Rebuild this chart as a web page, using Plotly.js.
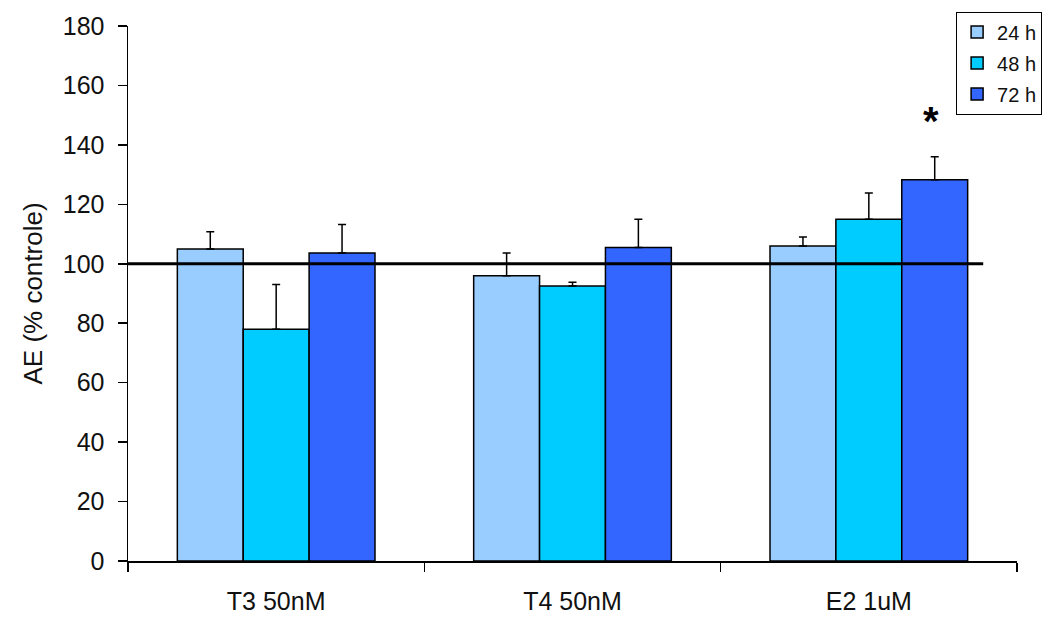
<!DOCTYPE html>
<html>
<head>
<meta charset="utf-8">
<script src="https://cdn.plot.ly/plotly-3.0.1.min.js"></script>
<style>html,body{margin:0;padding:0;background:#fff;}#chart{width:1054px;height:619px;}</style>
</head>
<body>
<div id="chart"></div>
<script>
const categories = ["T3 50nM", "T4 50nM", "E2 1uM"];
const seriesNames = ["24 h", "48 h", "72 h"];
const values24 = [105, 96, 106];
const values48 = [78, 92.5, 115];
const values72 = [103.6, 105.5, 128.3];
const err24 = [5.8, 7.6, 3];
const err48 = [15, 1.3, 8.8];
const err72 = [9.6, 9.5, 7.7];
const colors = ["#99CCFF", "#00CCFF", "#3366FF"];
const yTicks = [0, 20, 40, 60, 80, 100, 120, 140, 160, 180];
const refLine = 100;
const starLabel = "*";

const vals = [values24, values48, values72];
const errs = [err24, err48, err72];
const font = "Liberation Sans, Arial, sans-serif";

const traces = seriesNames.map((name, i) => ({
  type: "bar",
  name: name,
  x: categories,
  y: vals[i],
  legendgroup: "g" + i,
  marker: {color: colors[i], line: {color: "#000", width: 1.5}},
  error_y: {type: "data", symmetric: false, array: errs[i], arrayminus: [0, 0, 0],
            color: "#000", thickness: 1.5, width: 4}
}));

const layout = {
  width: 1054, height: 619,
  margin: {l: 128, r: 35, t: 22, b: 58},
  paper_bgcolor: "#fff", plot_bgcolor: "#fff",
  barmode: "group", bargap: 0.333, bargroupgap: 0,
  font: {family: font, color: "#111"},
  showlegend: true,
  legend: {
    x: 0.9315, y: 1.027, xanchor: "left", yanchor: "top",
    bordercolor: "#000", borderwidth: 1, bgcolor: "#fff",
    font: {size: 20, family: font}, traceorder: "grouped", tracegroupgap: 2,
    itemwidth: 30
  },
  xaxis: {
    type: "category", showline: true, linecolor: "#000", linewidth: 1.5,
    ticks: "outside", tickson: "boundaries", ticklen: 9, tickwidth: 1.5, tickcolor: "#000",
    tickfont: {size: 25, family: font}, showgrid: false, zeroline: false,
    ticklabelstandoff: 17
  },
  yaxis: {
    range: [0, 180], tickvals: yTicks, showline: true, linecolor: "#000", linewidth: 1.5,
    ticks: "outside", ticklen: 9, tickwidth: 1.5, tickcolor: "#000",
    tickfont: {size: 25, family: font}, showgrid: false, zeroline: false,
    ticklabelstandoff: 8,
    title: {text: "AE (% controle)", font: {size: 26, family: font}, standoff: 12}
  },
  shapes: [{type: "line", xref: "paper", yref: "y", x0: 0, x1: 0.962, y0: refLine, y1: refLine,
            line: {color: "#000", width: 3}}],
  annotations: [{x: 2.222, y: vals[2][2] + errs[2][2] + 12, xref: "x", yref: "y", text: "<b>" + starLabel + "</b>",
                 xshift: -4, showarrow: false, font: {size: 40, family: font, color: "#000"}}]
};

Plotly.newPlot("chart", traces, layout, {displayModeBar: false, staticPlot: true});
</script>
</body>
</html>
